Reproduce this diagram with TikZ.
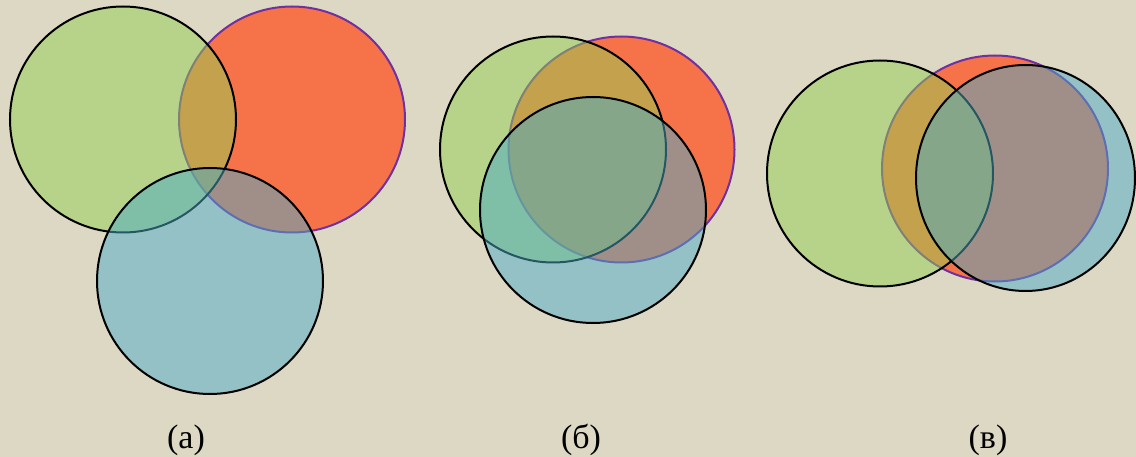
\documentclass[tikz,border=0pt]{standalone}
\usepackage{fontspec}
\setmainfont{Liberation Serif}
\definecolor{bgc}{RGB}{221,216,196}
\definecolor{gfill}{RGB}{146,208,80}
\definecolor{bfill}{RGB}{75,172,198}
\definecolor{rfill}{RGB}{246,115,74}
\definecolor{rline}{RGB}{112,48,160}
\tikzset{
  greenc/.style={fill=gfill, fill opacity=0.5, draw=black, draw opacity=1, line width=2pt},
  redc/.style={fill=rfill, draw=rline, line width=2pt},
  bluec/.style={fill=bfill, fill opacity=0.5, draw=black, draw opacity=1, line width=2pt},
  lbl/.style={anchor=base, inner sep=0pt, font=\fontsize{34}{40}\selectfont}
}
\begin{document}
\begin{tikzpicture}[x=1pt,y=-1pt]
\fill[bgc] (0,0) rectangle (1136,457);
\useasboundingbox (0,0) rectangle (1136,457);
% (a)
\draw[redc] (292,119.5) circle[radius=113];
\draw[greenc] (123,119.5) circle[radius=113];
\draw[bluec] (210,281) circle[radius=113];
% (b)
\draw[redc] (621.5,149.5) circle[radius=113];
\draw[greenc] (553,149.5) circle[radius=113];
\draw[bluec] (593,210) circle[radius=113];
% (c)
\draw[redc] (995,168.5) circle[radius=113];
\draw[greenc] (880,173.5) circle[radius=113];
\draw[bluec] (1025.5,178) ellipse[x radius=109.5, y radius=113];
% labels
\node[lbl] (la) at (186,448) {(а)};
\node[lbl] (lb) at (581,448) {(б)};
\node[lbl] (lc) at (988,448) {(в)};
\end{tikzpicture}
\end{document}
